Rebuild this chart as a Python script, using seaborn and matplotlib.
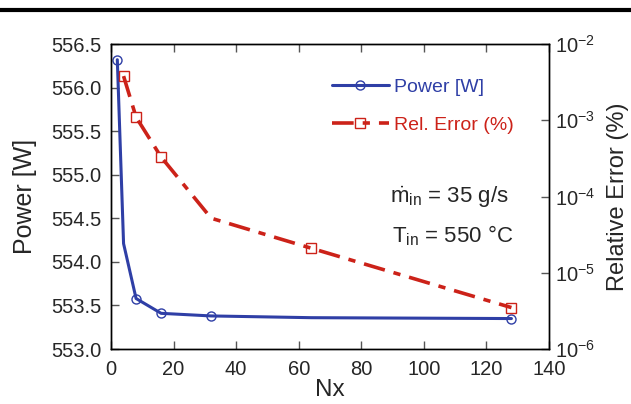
import matplotlib
matplotlib.use("Agg")
import matplotlib.pyplot as plt
from matplotlib.lines import Line2D
from matplotlib.ticker import LogLocator, NullLocator
import seaborn as sns
import numpy as np

# Grid refinement study values
nx = [2, 4, 8, 16, 32, 64, 128]
power = [556.32, 554.21, 553.58, 553.41, 553.38, 553.36, 553.35]
err_nx = [4, 8, 16, 32, 64, 128]
rel_err = [3.8e-3, 1.1e-3, 3.3e-4, 5.2e-5, 2.1e-5, 3.5e-6]

blue = "#2f3fa6"
red = "#cc2219"

sns.set_style("ticks")
plt.rcParams["font.family"] = ["Liberation Sans", "DejaVu Sans"]
plt.rcParams["mathtext.fontset"] = "custom"
plt.rcParams["mathtext.rm"] = "Liberation Sans"
plt.rcParams["mathtext.it"] = "Liberation Sans:italic"
plt.rcParams["xtick.direction"] = "in"
plt.rcParams["ytick.direction"] = "in"

fig = plt.figure(figsize=(6.31, 4.04), dpi=100)
ax = fig.add_axes([0.176, 0.136, 0.694, 0.755])
ax2 = ax.twinx()

sns.lineplot(x=nx, y=power, ax=ax, color=blue, lw=2.2, marker="o", ms=6.5,
             mfc="none", mec=blue, mew=1, markevery=[0, 2, 3, 4, 6],
             label="Power [W]", legend=False)
sns.lineplot(x=err_nx, y=rel_err, ax=ax2, color=red, lw=2.6, marker="s", ms=7,
             mfc="none", mec=red, mew=1, markevery=[0, 1, 2, 4, 5],
             linestyle=(0, (6, 2.5, 2, 2.5)), label="Rel. Error (%)", legend=False)

ax.set_xlim(0, 140)
ax.set_ylim(553.0, 556.5)
ax.set_xticks(np.arange(0, 141, 20))
ax.set_yticks(np.arange(553.0, 556.6, 0.5))
ax.set_yticklabels([f"{v:.1f}" for v in np.arange(553.0, 556.6, 0.5)])
ax2.set_yscale("log")
ax2.set_ylim(1e-6, 1e-2)
ax2.yaxis.set_major_locator(LogLocator(base=10, numticks=10))
ax2.yaxis.set_minor_locator(NullLocator())

ax.tick_params(axis="both", labelsize=14.5, length=6, width=1, color="#555555", top=True)
ax.tick_params(axis="x", pad=8)
ax.tick_params(axis="y", right=False, pad=7)
ax2.tick_params(axis="y", labelsize=14.5, length=6, width=1, color="#555555", pad=4)
for lab in ax2.get_yticklabels():
    lab.set_verticalalignment("center_baseline")

ax.set_xlabel("Nx", fontsize=17.5, labelpad=0)
ax.set_ylabel("Power [W]", fontsize=18, labelpad=10)
ax2.set_ylabel("Relative Error (%)", fontsize=17, labelpad=9)

for a in (ax, ax2):
    for s in a.spines.values():
        s.set_linewidth(1)
        s.set_color("black")

h1, l1 = ax.get_legend_handles_labels()
h2, l2 = ax2.get_legend_handles_labels()
leg = ax2.legend(h1 + h2, l1 + l2, loc="upper left", bbox_to_anchor=(0.505, 0.889),
                 frameon=False, fontsize=14, labelspacing=1.05, handlelength=2.9,
                 handletextpad=0.3, borderpad=0, borderaxespad=0)
for t, c in zip(leg.get_texts(), [blue, red]):
    t.set_color(c)

ax.text(0.772, 0.479, r"$\dot{\mathrm{m}}_{\mathrm{in}}$ = 35 g/s", transform=ax.transAxes,
        ha="center", va="baseline", fontsize=16)
ax.text(0.779, 0.351, r"T$_{\mathrm{in}}$ = 550 °C", transform=ax.transAxes,
        ha="center", va="baseline", fontsize=16)

fig.add_artist(Line2D([0, 1], [0.975, 0.975], transform=fig.transFigure,
                      color="black", lw=3))

fig.savefig("out.png", dpi=100)
